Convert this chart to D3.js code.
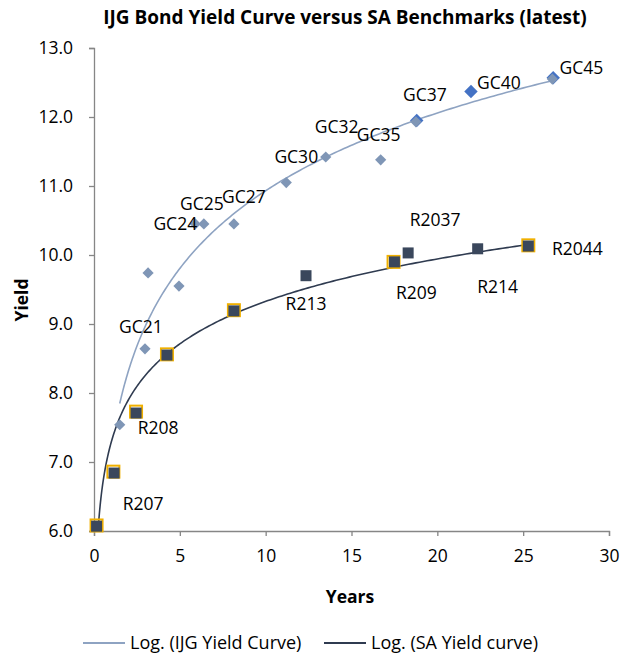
<!DOCTYPE html>
<html>
<head>
<meta charset="utf-8">
<script src="https://cdn.jsdelivr.net/npm/d3@7"></script>
<style>
  body { margin: 0; background: #fff; }
  text { font-family: "Open Sans", "Noto Sans", sans-serif; fill: #000; }
</style>
</head>
<body>
<div id="chart"></div>
<script>
// IJG (Namibian) bonds: years to maturity, yield, label
var gcNames  = ['GC20','GC21','GC22','GC23','GC24','GC25','GC27','GC30','GC32','GC35','GC37','GC45'];
var gcYears  = [1.5, 2.97, 3.15, 4.95, 5.9, 6.4, 8.15, 11.2, 13.5, 16.7, 18.75, 26.7];
var gcYields = [7.54, 8.64, 9.74, 9.55, 10.45, 10.45, 10.45, 11.05, 11.42, 11.38, 11.93, 12.55];
var gcShown  = ['', 'GC21', '', '', 'GC24', 'GC25', 'GC27', 'GC30', 'GC32', 'GC35', 'GC37', 'GC45'];

// newer GC issues (brighter marker)
var gcNewNames  = ['GC37b', 'GC40', 'GC45b'];
var gcNewYears  = [18.8, 21.96, 26.75];
var gcNewYields = [11.95, 12.37, 12.57];
var gcNewShown  = ['', 'GC40', ''];

// SA benchmarks
var saNames  = ['R203','R207','R208','R2023','R186','R213','R209','R2037','R214','R2044'];
var saYears  = [0.15, 1.17, 2.45, 4.25, 8.15, 12.35, 17.5, 18.3, 22.35, 25.3];
var saYields = [6.07, 6.84, 7.71, 8.55, 9.19, 9.70, 9.90, 10.03, 10.09, 10.13];
var saShown  = ['', 'R207', 'R208', '', '', 'R213', 'R209', 'R2037', 'R214', 'R2044'];

// yellow outlined squares (previous SA levels)
var saPrevYears  = [0.15, 1.13, 2.45, 4.25, 8.15, 17.45, 25.3];
var saPrevYields = [6.08, 6.86, 7.73, 8.56, 9.2, 9.9, 10.14];

var xTicks = [0, 5, 10, 15, 20, 25, 30];
var yTicks = [6, 7, 8, 9, 10, 11, 12, 13];

// label placement relative to the marker (px)
var labelOffset = {
  GC21: [-4, -22], GC24: [-20, 0], GC25: [-2, -20], GC27: [10, -27], GC30: [10, -26],
  GC32: [11, -30], GC35: [-2, -25], GC37: [9, -27], GC40: [28, -9], GC45: [29, -11],
  R207: [29, 31], R208: [22, 15], R213: [0, 28], R209: [22, 31], R2037: [27, -33],
  R214: [20, 38], R2044: [49, 3]
};

const W = 632, H = 657;
const m = {left: 94, right: 23, top: 48, bottom: 126};
const fs = '17.5px';

var svg = d3.select('#chart').append('svg').attr('width', W).attr('height', H);

var x = d3.scaleLinear().domain([0, 30]).range([m.left, W - m.right]);
var y = d3.scaleLinear().domain([6, 13]).range([H - m.bottom, m.top]);

svg.append('defs').append('clipPath').attr('id', 'plot')
  .append('rect').attr('x', m.left).attr('y', m.top)
  .attr('width', W - m.left - m.right).attr('height', H - m.top - m.bottom);

// axes
var axisColor = '#868686';
var gx = svg.append('g').attr('transform', 'translate(0,' + y(6) + ')')
  .call(d3.axisBottom(x).tickValues(xTicks).tickFormat(d3.format('d')).tickSizeOuter(0).tickSize(5).tickPadding(14));
var gy = svg.append('g').attr('transform', 'translate(' + x(0) + ',0)')
  .call(d3.axisLeft(y).tickValues(yTicks).tickFormat(d3.format('.1f')).tickSizeOuter(0).tickSize(5).tickPadding(16));
[gx, gy].forEach(function(g){
  g.selectAll('path, line').attr('stroke', axisColor).attr('stroke-width', 1.3);
  g.selectAll('text').style('font-size', fs).style('fill', '#000').style('font-family', null);
});

// log trendlines fitted like a spreadsheet trendline
function logFit(xs, ys) {
  var lx = xs.map(Math.log);
  var mx = d3.mean(lx), my = d3.mean(ys);
  var sxy = d3.sum(lx, function(v, i){ return (v - mx) * (ys[i] - my); });
  var sxx = d3.sum(lx, function(v){ return (v - mx) * (v - mx); });
  var a = sxy / sxx, b = my - a * mx;
  var lo = d3.min(xs), hi = d3.max(xs);
  return d3.range(0, 201).map(function(i){
    var t = lo + (hi - lo) * Math.pow(i / 200, 2);
    return [t, a * Math.log(t) + b];
  });
}
var line = d3.line().x(function(d){ return x(d[0]); }).y(function(d){ return y(d[1]); });

var ijgColor = '#8ea3c2', saColor = '#2f3b50';
var plot = svg.append('g').attr('clip-path', 'url(#plot)');
plot.append('path').datum(logFit(gcYears.concat([21.96]), gcYields.concat([12.37])))
  .attr('d', line).attr('fill', 'none').attr('stroke', ijgColor).attr('stroke-width', 1.6);
plot.append('path').datum(logFit(saYears, saYields))
  .attr('d', line).attr('fill', 'none').attr('stroke', saColor).attr('stroke-width', 1.6);

// markers
var diamond = d3.symbol().type(d3.symbolDiamond2).size(80);
svg.append('g').selectAll('path').data(gcNewYears).enter().append('path')
  .attr('d', diamond)
  .attr('transform', function(d, i){ return 'translate(' + x(d) + ',' + y(gcNewYields[i]) + ') scale(1.2)'; })
  .attr('fill', '#4472c4');
svg.append('g').selectAll('path').data(gcYears).enter().append('path')
  .attr('d', diamond)
  .attr('transform', function(d, i){ return 'translate(' + x(d) + ',' + y(gcYields[i]) + ')'; })
  .attr('fill', '#7f96b6');

var sq = 11;
svg.append('g').selectAll('rect').data(saPrevYears).enter().append('rect')
  .attr('x', function(d){ return x(d) - sq / 2 - 0.5; })
  .attr('y', function(d, i){ return y(saPrevYields[i]) - sq / 2 - 0.5; })
  .attr('width', sq + 1).attr('height', sq + 1)
  .attr('fill', 'none').attr('stroke', '#f0b000').attr('stroke-width', 2);
svg.append('g').selectAll('rect').data(saYears).enter().append('rect')
  .attr('x', function(d){ return x(d) - sq / 2; })
  .attr('y', function(d, i){ return y(saYields[i]) - sq / 2; })
  .attr('width', sq).attr('height', sq)
  .attr('fill', '#3a475c');

// data labels
function addLabels(names, xs, ys) {
  svg.append('g').selectAll('text').data(names).enter().filter(function(d){ return d !== ''; })
    .append('text')
    .attr('x', function(d){ var i = names.indexOf(d); return x(xs[i]) + labelOffset[d][0]; })
    .attr('y', function(d){ var i = names.indexOf(d); return y(ys[i]) + labelOffset[d][1]; })
    .attr('text-anchor', 'middle').attr('dy', '0.35em')
    .style('font-size', fs)
    .text(function(d){ return d; });
}
addLabels(gcShown, gcYears, gcYields);
addLabels(gcNewShown, gcNewYears, gcNewYields);
addLabels(saShown, saYears, saYields);

// titles
svg.append('text').attr('x', 345).attr('y', 17).attr('text-anchor', 'middle').attr('dy', '0.35em')
  .style('font-size', '19px').style('font-weight', 'bold')
  .text('IJG Bond  Yield Curve versus SA Benchmarks (latest)');
svg.append('text').attr('x', 350).attr('y', 597).attr('text-anchor', 'middle').attr('dy', '0.35em')
  .style('font-size', fs).style('font-weight', 'bold').text('Years');
svg.append('text').attr('transform', 'translate(22,300) rotate(-90)').attr('text-anchor', 'middle')
  .attr('dy', '0.35em').style('font-size', fs).style('font-weight', 'bold').text('Yield');

// legend
var legend = [
  {name: 'Log. (IJG Yield Curve)', color: ijgColor, x: 83},
  {name: 'Log. (SA Yield curve)', color: saColor, x: 324}
];
var lg = svg.append('g').attr('transform', 'translate(0,643)');
legend.forEach(function(l){
  lg.append('line').attr('x1', l.x).attr('x2', l.x + 42).attr('y1', 0).attr('y2', 0)
    .attr('stroke', l.color).attr('stroke-width', 2);
  lg.append('text').attr('x', l.x + 47).attr('dy', '0.35em').style('font-size', '18px').text(l.name);
});
</script>
</body>
</html>
